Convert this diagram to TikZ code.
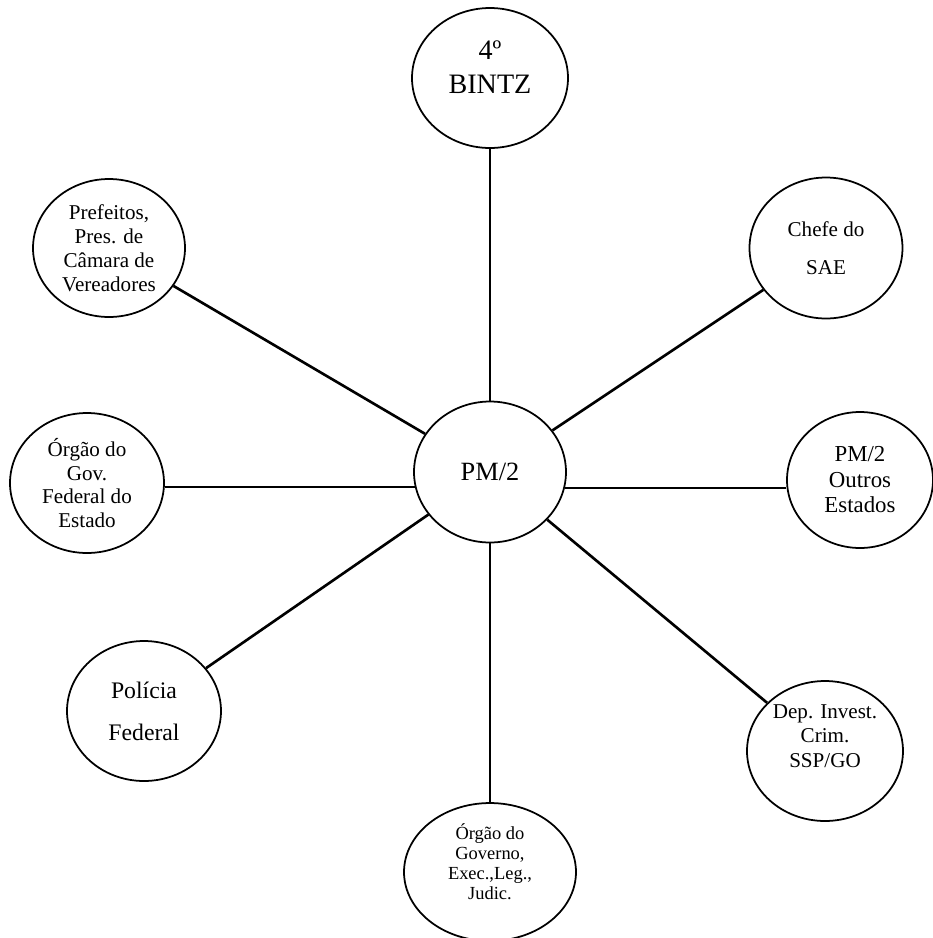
\documentclass[tikz,border=0pt]{standalone}
\usepackage{fontspec}
\setmainfont{Liberation Serif}
\usetikzlibrary{shapes.geometric}
\newcommand{\fsz}[2]{\fontsize{#1}{#2}\selectfont}
\tikzset{
    orgnode/.style={draw, ellipse, line width=1pt, inner sep=0pt,
        minimum width=3.08cm, minimum height=2.8cm, align=center,
        font=\fsz{12}{13.6}},
    link/.style={line width=1.5pt},
    thinlink/.style={line width=1pt},
}

\begin{document}
\begin{tikzpicture}[x=.02cm, y=-.02cm]
    \useasboundingbox (0, 0) rectangle (933, 938);
    \node[orgnode, minimum width=3.04cm, minimum height=2.82cm,
        font=\fsz{15}{18}] (pm) at (490, 472) {PM/2};
    \node[orgnode, minimum width=3.12cm, text depth=12.5pt,
        font=\fsz{16}{19}] (bintz) at (490, 78) {4º\\BINTZ};
    \node[orgnode, minimum width=3.04cm, minimum height=2.76cm]
        (prefeitos) at (109, 248)
        {Prefeitos,\\Pres. de\\Câmara de\\Vereadores};
    \node[orgnode] (gov) at (87, 483)
        {Órgão do\\Gov.\\Federal do\\Estado};
    \node[orgnode, font=\fsz{13.5}{23.8}] (policia) at (144, 711)
        {Polícia\\Federal};
    \node[orgnode, minimum width=3.44cm, minimum height=2.64cm,
        text depth=12pt, font=\fsz{10.5}{11.5}] (governo) at (490, 872)
        {Órgão do\\Governo,\\Exec.,Leg.,\\Judic.};
    \node[orgnode, minimum width=3.12cm, text depth=17pt,
        font=\fsz{12}{14.2}] (dep) at (825, 751)
        {Dep. Invest.\\Crim.\\SSP/GO};
    \node[orgnode, minimum width=2.92cm, minimum height=2.72cm,
        font=\fsz{13}{14.5}] (outros) at (860, 480)
        {PM/2\\Outros\\Estados};
    \node[orgnode, minimum width=3.06cm, minimum height=2.82cm,
        font=\fsz{12}{21.5}] (chefe) at (826, 248) {Chefe do\\SAE};

    \draw[thinlink] (bintz) -- (pm);
    \draw[thinlink] (pm) -- (governo);
    \draw[thinlink] (pm.191) -- (pm.191 -| gov.east);
    \draw[thinlink] (pm.348) -- (pm.348 -| outros.west);
    \draw[link] (pm) -- (prefeitos);
    \draw[link] (pm) -- (policia);
    \draw[link] (pm) -- (dep);
    \draw[link] (pm) -- (chefe);
\end{tikzpicture}
\end{document}
